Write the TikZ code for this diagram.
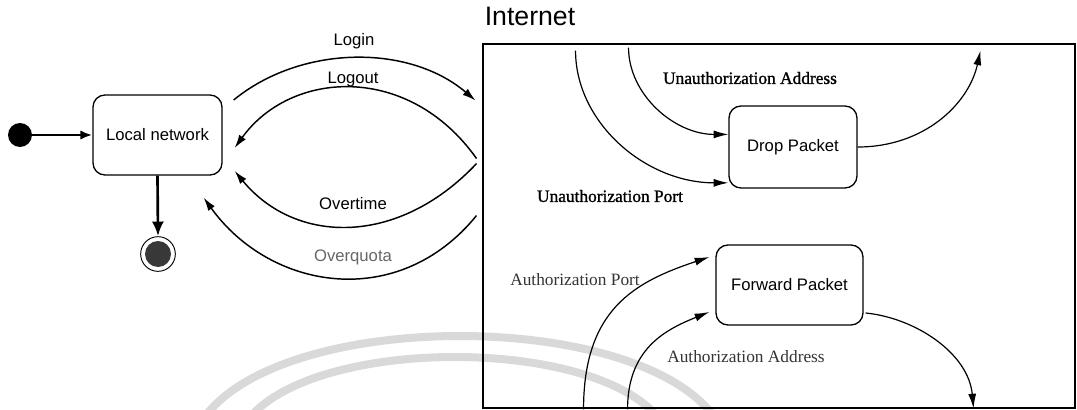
\documentclass[tikz,border=0pt]{standalone}
\usepackage{fontspec}
\setmainfont{Liberation Serif}
\setsansfont{Liberation Sans}
\usetikzlibrary{arrows.meta,calc}

\begin{document}
\begin{tikzpicture}[x=0.75pt,y=-0.75pt,
  stbox/.style={draw, rounded corners=9pt, line width=1pt, inner sep=0pt,
    font=\sffamily\fontsize{12.5}{14}\selectfont},
  flow/.style={line width=1.1pt, -{Latex[length=10pt,width=6pt]}},
  inflow/.style={line width=0.9pt, -{Latex[length=11pt,width=6pt]}},
  lab/.style={font=\sffamily\fontsize{12.5}{14}\selectfont, inner sep=1pt},
  cond/.style={font=\fontsize{13}{15}\selectfont, inner sep=1pt},
  heavycond/.style={font=\fontsize{13}{15}\selectfont\addfontfeatures{FakeBold=1.2}, inner sep=1pt},
  wmband/.style={draw=black!15, line width=6pt}]

\useasboundingbox (0,0) rectangle (1077,410);

% faint background bands
\draw[wmband] (207,414) .. controls (290,310) and (630,310) .. (712,414);
\draw[wmband] (253,414) .. controls (325,338) and (585,338) .. (655,414);

% local side
\node[circle, fill, inner sep=0pt, minimum size=18pt] (init) at (20,135) {};
\node[stbox, minimum width=96.75pt, minimum height=60pt] (local) at (157.5,135) {Local network};
\node[circle, draw, line width=0.7pt, inner sep=0pt, minimum size=26pt] (final) at (158,254) {};
\fill[black!78] (final.center) circle (9.75pt);

\draw[line width=1.8pt, -{Latex[length=9pt,width=7pt]}] (init) -- (local);
\draw[line width=2pt, -{Latex[length=11pt,width=9pt]}] (local.south) -- (final.north);

% internet region
\node[draw, line width=2.2pt, inner sep=0pt, minimum width=444pt, minimum height=273pt] (inet) at (779,226) {};
\node[anchor=base west, inner sep=0pt, font=\sffamily\fontsize{20}{24}\selectfont] (inettitle)
  at ($(inet.north west)+(3,-17)$) {Internet};

\node[stbox, minimum width=96pt, minimum height=61.5pt] (drop) at (793,147) {Drop Packet};
\node[stbox, minimum width=110.25pt, minimum height=60pt] (fwd) at (789.5,285) {Forward Packet};

% free ends inside and beside the internet region
\coordinate (up) at ($(inet.north west)+(94,8)$);
\coordinate (ua) at ($(inet.north west)+(147,5)$);
\coordinate (dropout) at ($(inet.north west)+(499,8)$);
\coordinate (ap) at ($(inet.south west)+(102,0)$);
\coordinate (aa) at ($(inet.south west)+(146,0)$);
\coordinate (fwdout) at ($(inet.south west)+(492,-1)$);
\coordinate (loginend) at ($(inet.north west)+(-6,58)$);
\coordinate (logoutstart) at ($(inet.north west)+(-5,116)$);
\coordinate (overtimestart) at ($(inet.north west)+(-5,121)$);
\coordinate (quotastart) at ($(inet.north west)+(-5,173)$);

% transitions between local network and internet
\draw[flow] ($(local.east)+(11,-35)$) .. controls +(67,-55) and +(-67,-57) .. (loginend);
\draw[flow] (logoutstart) .. controls +(-68,-96) and +(56,-78) .. ($(local.east)+(12,13)$);
\draw[flow] (overtimestart) .. controls +(-78,83) and +(61,74) .. ($(local.east)+(12,36)$);
\draw[flow] (quotastart) .. controls +(-78,96) and +(67,93) .. ($(local.south east)+(-19,22)$);

\node[lab] (llogin) at (354,41) {Login};
\node[lab] (llogout) at (353,79) {Logout};
\node[lab] (lover) at (353,204) {Overtime};
\node[lab, text=black!60] (lquota) at (353,257) {Overquota};

% packet filtering
\draw[inflow] (up) .. controls +(0,72) and +(-83,0) .. (drop.209);
\draw[inflow] (ua) .. controls +(0,47) and +(-54,0) .. (drop.169);
\draw[inflow] (drop.east) .. controls +(66,0) and +(-12,54) .. (dropout);

\draw[inflow] (ap) .. controls +(0,-100) and +(-75,25) .. ($(fwd.west)+(-6,-28)$);
\draw[inflow] (aa) .. controls +(0,-60) and +(-45,18) .. ($(fwd.west)+(-6,27)$);
\draw[inflow] ($(fwd.east)+(2,28)$) .. controls +(50,5) and +(-5,-55) .. (fwdout);

\node[heavycond] (lua) at (750,78) {Unauthorization Address};
\node[heavycond] (lup) at (610,196) {Unauthorization Port};
\node[cond, text=black!80] (lap) at (575,280) {Authorization Port};
\node[cond, text=black!80] (laa) at (746,357) {Authorization Address};

\end{tikzpicture}
\end{document}
